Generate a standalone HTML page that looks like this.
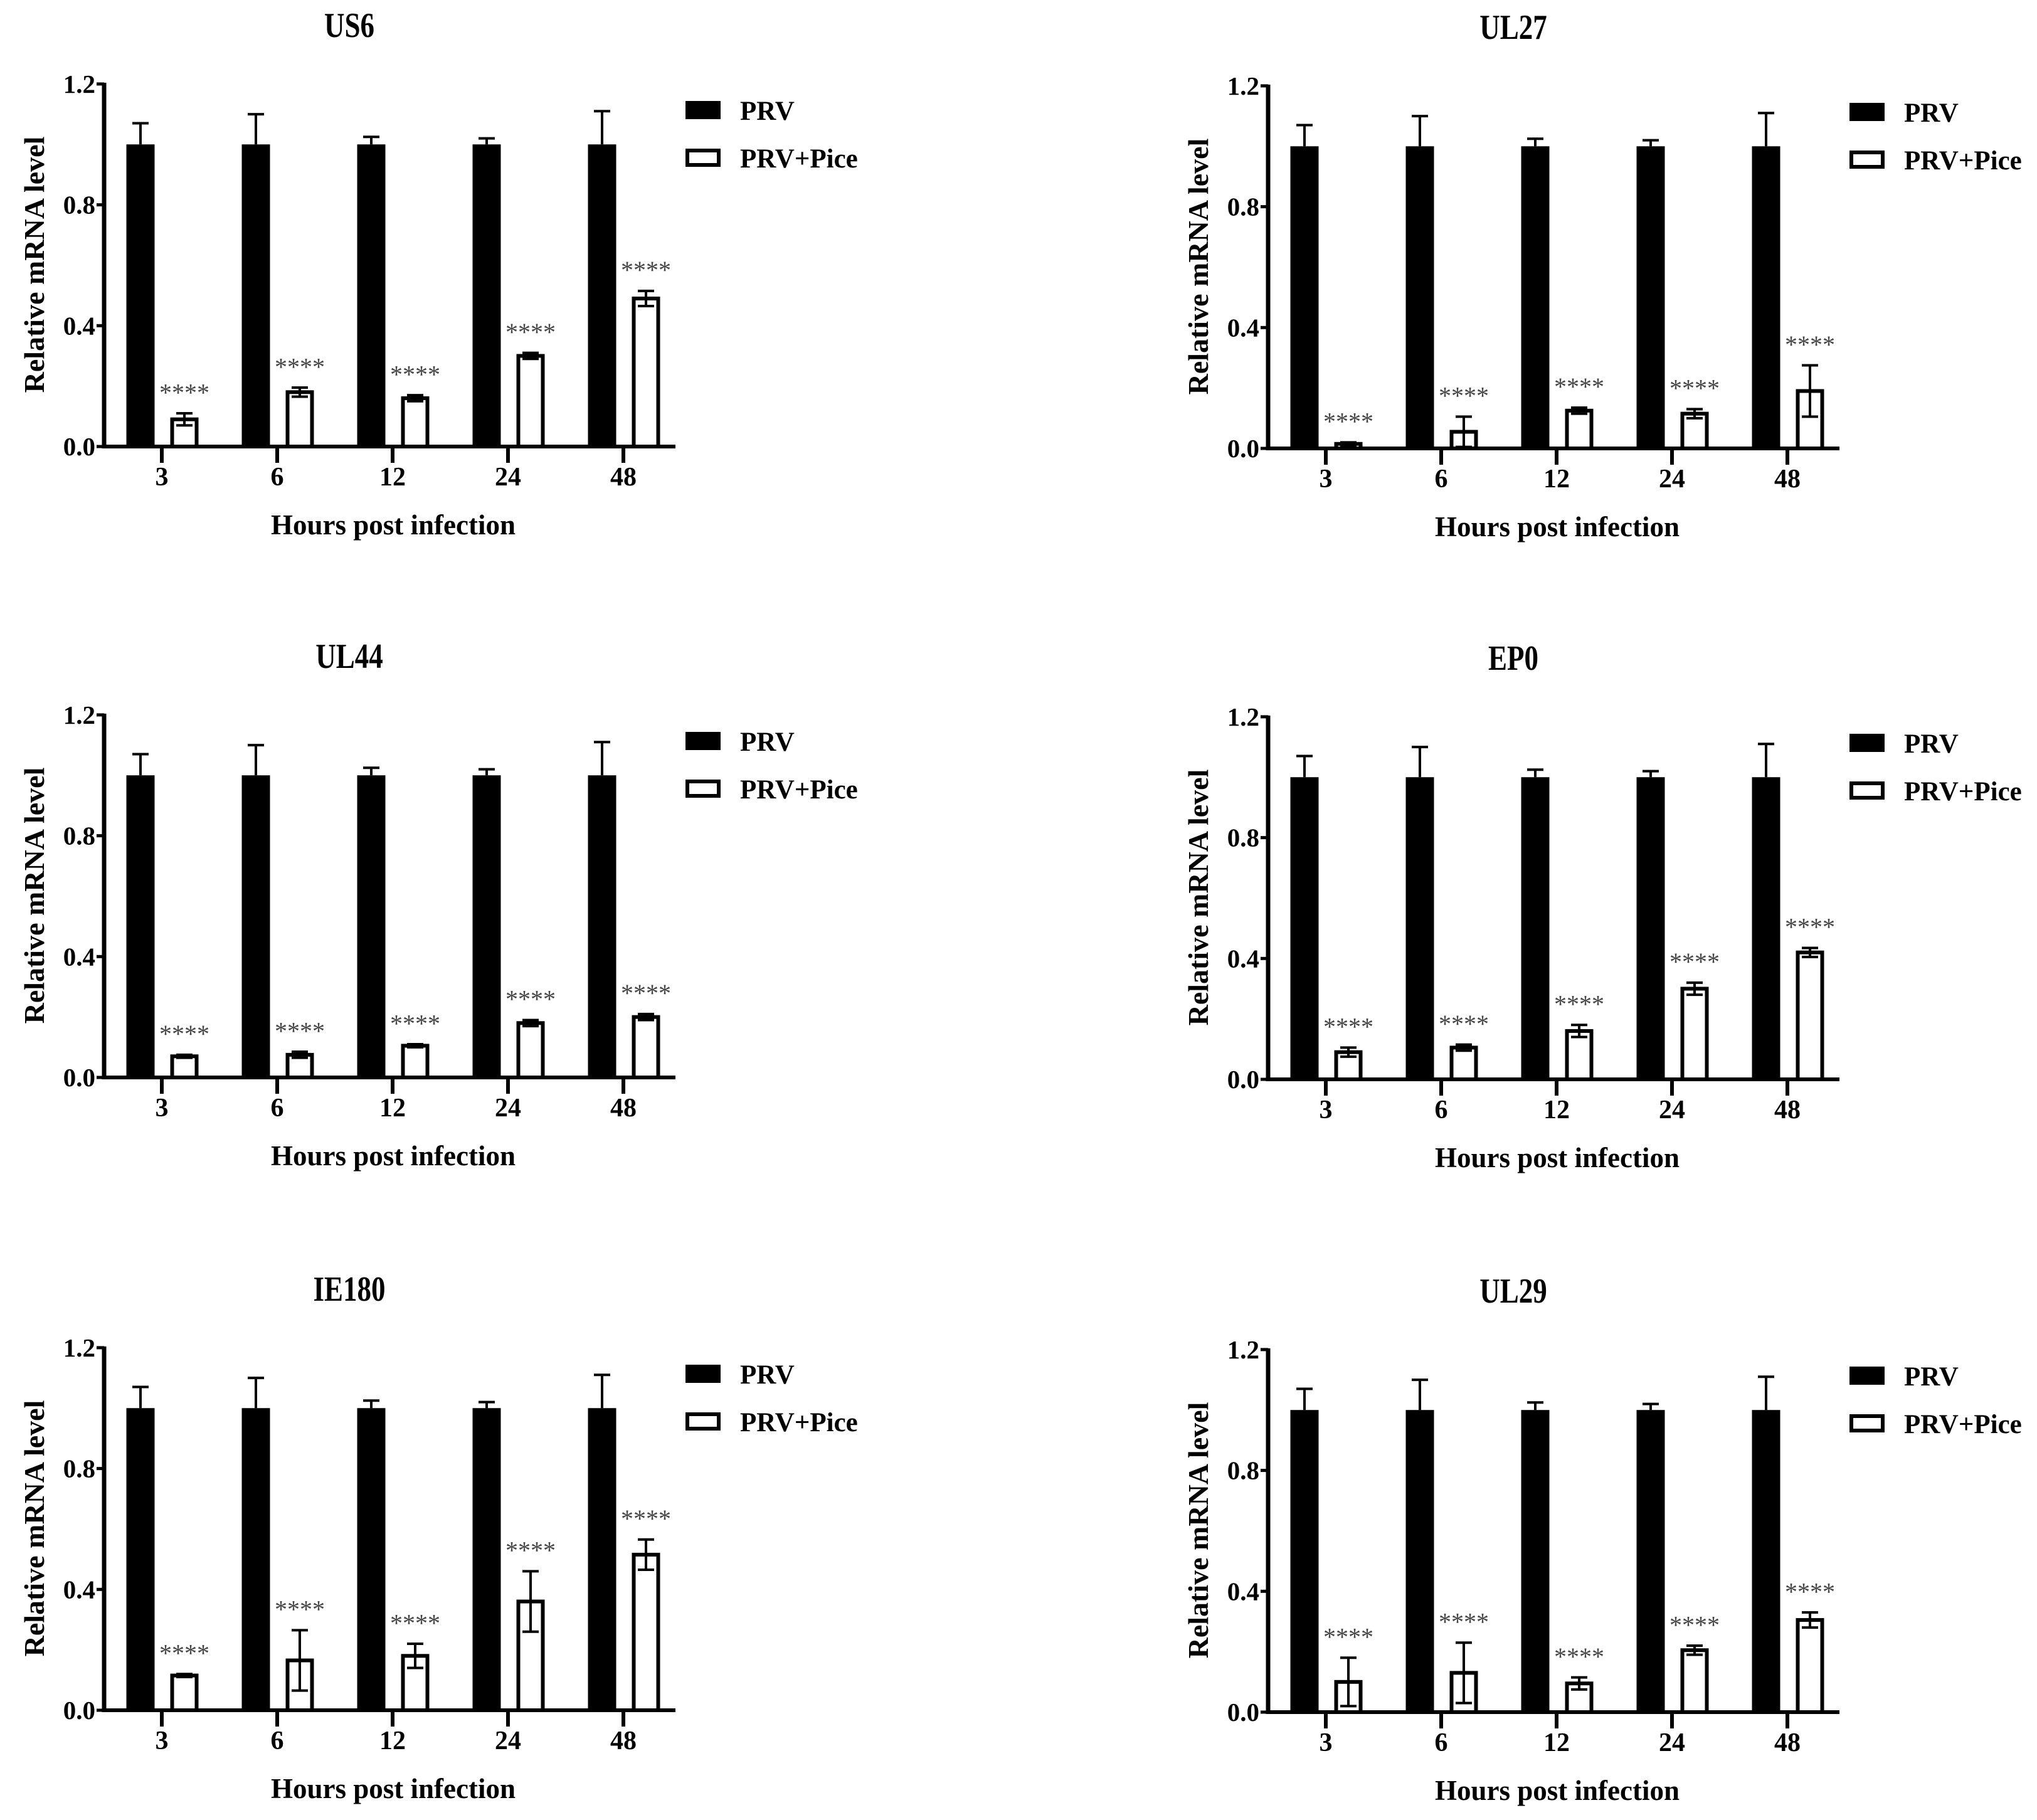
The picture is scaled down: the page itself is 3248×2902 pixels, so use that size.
<!DOCTYPE html>
<html><head><meta charset="utf-8"><style>
html,body{margin:0;padding:0;background:#fff;}
svg{display:block;font-family:"Liberation Serif",serif;font-weight:bold;}
</style></head><body>
<svg id="fig" width="3248" height="2902" viewBox="0 0 3248 2902" xmlns="http://www.w3.org/2000/svg"></svg>
<script>
const categories = ["3","6","12","24","48"];
const yTicks = [0, 0.4, 0.8, 1.2];
const tickLabels = ["0.0","0.4","0.8","1.2"];
const titles = ["US6","UL27","UL44","EP0","IE180","UL29"];
const prvMean = [1.0, 1.0, 1.0, 1.0, 1.0];
const prvErr = [0.07, 0.10, 0.025, 0.02, 0.11];
const piceUS6 = [0.09, 0.18, 0.16, 0.30, 0.49];
const errUS6 = [0.02, 0.015, 0.01, 0.01, 0.025];
const piceUL27 = [0.015, 0.055, 0.125, 0.115, 0.19];
const errUL27 = [0.005, 0.05, 0.01, 0.015, 0.085];
const piceUL44 = [0.07, 0.075, 0.105, 0.18, 0.20];
const errUL44 = [0.005, 0.01, 0.005, 0.01, 0.01];
const piceEP0 = [0.09, 0.105, 0.16, 0.30, 0.42];
const errEP0 = [0.015, 0.01, 0.02, 0.02, 0.015];
const piceIE180 = [0.115, 0.165, 0.18, 0.36, 0.515];
const errIE180 = [0.005, 0.10, 0.04, 0.10, 0.05];
const piceUL29 = [0.10, 0.13, 0.095, 0.205, 0.305];
const errUL29 = [0.08, 0.10, 0.02, 0.015, 0.025];
const piceSeries = [piceUS6, piceUL27, piceUL44, piceEP0, piceIE180, piceUL29];
const piceErrs = [errUS6, errUL27, errUL44, errEP0, errIE180, errUL29];

const NS = "http://www.w3.org/2000/svg";
const svg = document.getElementById("fig");
function mk(tag, attrs, parent, text){
  const e = document.createElementNS(NS, tag);
  for (const k in attrs) e.setAttribute(k, attrs[k]);
  if (text !== undefined) e.textContent = text;
  parent.appendChild(e);
  return e;
}
const origins = [[166,712],[2022,715],[166,1718],[2022,1721],[166,2727],[2022,2730]];
const PX_PER_UNIT = 192.7/0.4;
const AXIS_LEN = 911;
const SPACING = 184;
const FIRST = 92;
const BW = 45;

for (let p = 0; p < 6; p++){
  const [ax, y0] = origins[p];
  const g = mk("g", {}, svg);
  
  
  const yS = v => y0 - v * PX_PER_UNIT;
  const xS = i => ax + FIRST + i * SPACING;

  const ty = y0 - 653;
  const t = mk("text", {x: ax + 391, y: ty, "font-size": 50, "text-anchor": "middle", transform: `translate(${ax+391},${ty}) scale(0.9,1.12) translate(${-(ax+391)},${-ty})`}, g, titles[p]);
  
  

  for (let i = 0; i < categories.length; i++){
    const cx = xS(i);
    const bx = cx - 34 - BW/2;
    const b = mk("rect", {x: bx, y: yS(prvMean[i]), width: BW, height: yS(0) - yS(prvMean[i]), fill: "#000"}, g);
    
    
    const ex = cx - 34;
    const e1 = mk("path", {d: `M${ex} ${yS(prvMean[i])} V${yS(prvMean[i]+prvErr[i])} M${ex-13} ${yS(prvMean[i]+prvErr[i])} H${ex+13}`, stroke: "#000", "stroke-width": 4, fill: "none"}, g);
    
    

    const v = piceSeries[p][i], er = piceErrs[p][i];
    const wx = cx + 36;
    const w = mk("rect", {x: wx - BW/2 + 3, y: yS(v), width: BW - 6, height: yS(0) - yS(v), fill: "#fff", stroke: "#000", "stroke-width": 6}, g);
    
    
    const e2 = mk("path", {d: `M${wx} ${yS(Math.max(0, v-er))} V${yS(v+er)} M${wx-13} ${yS(v+er)} H${wx+13} M${wx-13} ${yS(Math.max(0,v-er))} H${wx+13}`, stroke: "#000", "stroke-width": 4, fill: "none"}, g);
    
    
    const s = mk("text", {x: wx, y: yS(v + er + 0.07) + 14, "font-size": 40, "font-weight": "normal", fill: "#444", "text-anchor": "middle"}, g, "****");
    
    

    const tk = mk("line", {x1: cx, y1: y0, x2: cx, y2: y0 + 26, stroke: "#000", "stroke-width": 6}, g);
    
    
    const tl = mk("text", {x: cx, y: y0 + 62, "font-size": 42, "text-anchor": "middle"}, g, categories[i]);
    
    
  }

  const xa = mk("line", {x1: ax - 3, y1: y0, x2: ax + AXIS_LEN, y2: y0, stroke: "#000", "stroke-width": 6}, g);
  
  
  const ya = mk("line", {x1: ax, y1: y0 + 3, x2: ax, y2: yS(1.2) - 2, stroke: "#000", "stroke-width": 7}, g);
  
  
  for (let k = 0; k < yTicks.length; k++){
    const yy = yS(yTicks[k]);
    const tk = mk("line", {x1: ax - 12, y1: yy, x2: ax, y2: yy, stroke: "#000", "stroke-width": 5}, g);
    
    
    const tl = mk("text", {x: ax - 14, y: yy + 14, "font-size": 41, "text-anchor": "end"}, g, tickLabels[k]);
    
    
  }
  const xl = mk("text", {x: ax + 461, y: y0 + 140, "font-size": 45, "text-anchor": "middle"}, g, "Hours post infection");
  
  
  const yl = mk("text", {x: 0, y: 0, "font-size": 46, "text-anchor": "middle", transform: `translate(${ax - 96},${y0 - 290}) rotate(-90)`}, g, "Relative mRNA level");
  
  

  const l1 = mk("rect", {x: ax + 927, y: y0 - 551, width: 56, height: 29, fill: "#000"}, g);
  
  
  const lt1 = mk("text", {x: ax + 1014, y: y0 - 521, "font-size": 43}, g, "PRV");
  
  
  const l2 = mk("rect", {x: ax + 930, y: y0 - 472, width: 50, height: 23, fill: "#fff", stroke: "#000", "stroke-width": 6}, g);
  
  
  const lt2 = mk("text", {x: ax + 1014, y: y0 - 445, "font-size": 43}, g, "PRV+Pice");
  
  
}
</script>
</body></html>
